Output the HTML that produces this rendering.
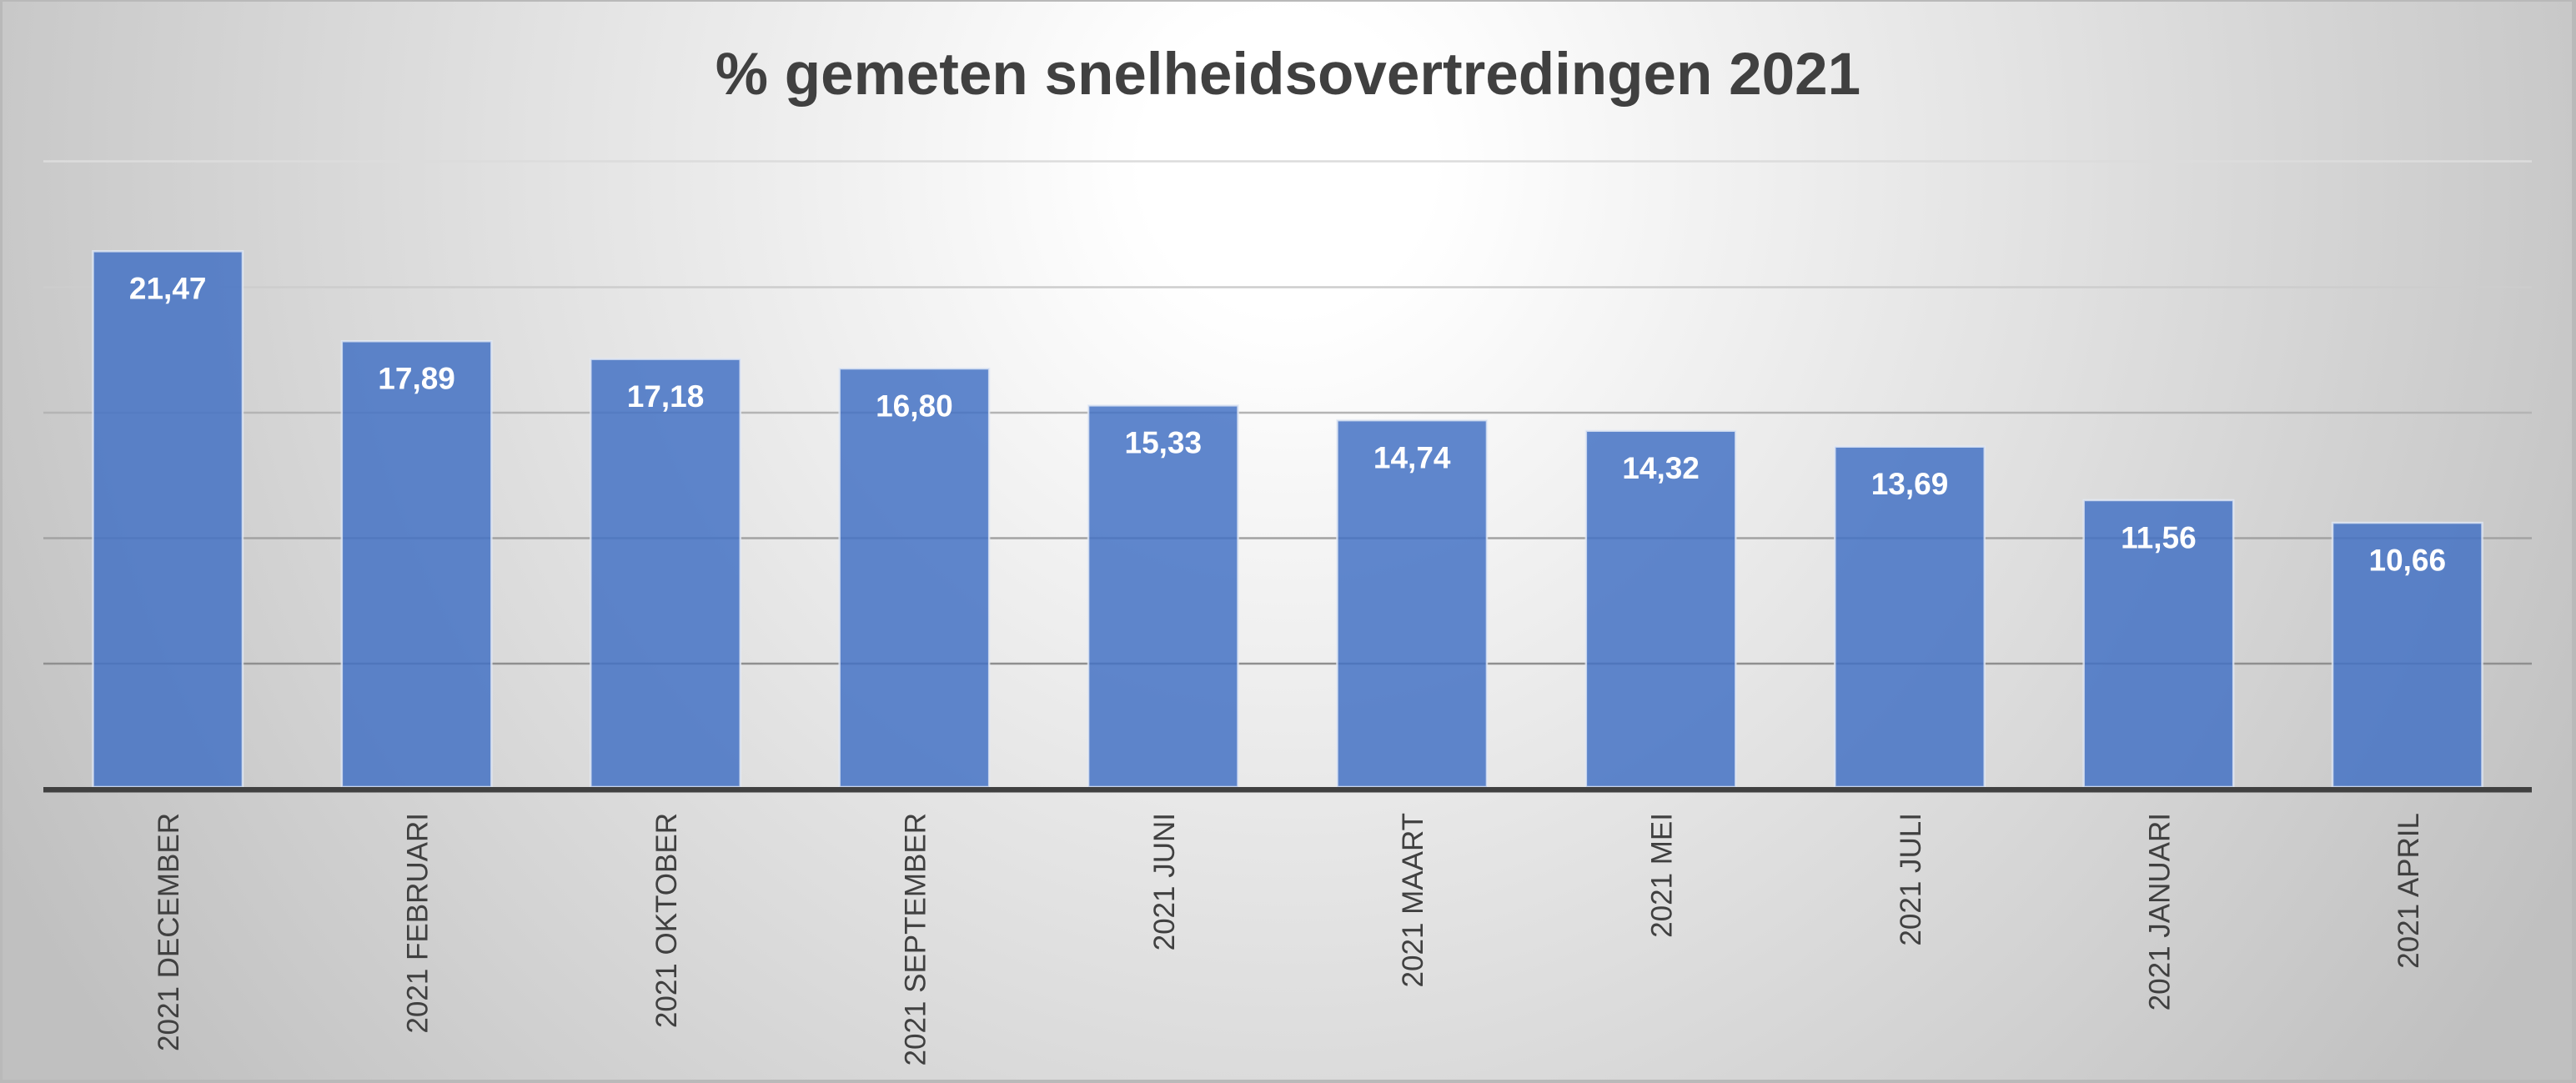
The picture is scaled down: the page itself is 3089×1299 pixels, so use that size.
<!DOCTYPE html>
<html>
<head>
<meta charset="utf-8">
<style>
  html, body { margin:0; padding:0; }
  body { width:3089px; height:1299px; overflow:hidden; }
  #chart {
    position:relative; width:3089px; height:1299px;
    background: radial-gradient(1750px 1800px at 1544px 195px, #ffffff 10%, #c0c0c0 100%);
  }
  #frame {
    position:absolute; left:0; top:0; width:3089px; height:1299px; box-sizing:border-box;
    border-style:solid; border-color:#b9b9b9;
    border-width:2px 5px 4px 3px;
  }
  svg { position:absolute; left:0; top:0; }
</style>
</head>
<body>
<div id="chart">
<svg width="3089" height="1299" viewBox="0 0 3089 1299" xmlns="http://www.w3.org/2000/svg">
  <!-- Title -->
  <text x="1544.5" y="113" text-anchor="middle" font-family="Liberation Sans, Arial, sans-serif" font-weight="bold" font-size="71" fill="#404040">% gemeten snelheidsovertredingen 2021</text>

  <!-- Gridlines -->
  <g stroke-width="2.5">
    <line x1="52" y1="193.5" x2="3036" y2="193.5" stroke="#dcdcdc"/>
    <line x1="52" y1="344.5" x2="3036" y2="344.5" stroke="#cdcdcd"/>
    <line x1="52" y1="495" x2="3036" y2="495" stroke="#b4b4b4"/>
    <line x1="52" y1="645.5" x2="3036" y2="645.5" stroke="#a2a2a2"/>
    <line x1="52" y1="796" x2="3036" y2="796" stroke="#8f8f8f"/>
  </g>

  <!-- Bars -->
  <g fill="#4472c4" fill-opacity="0.85" stroke="#e4eaf5" stroke-opacity="0.8" stroke-width="2.5">
    <rect x="111.45" y="301.35" width="179.5" height="642.65"/>
    <rect x="409.85" y="409.25" width="179.5" height="534.75"/>
    <rect x="708.25" y="430.65" width="179.5" height="513.35"/>
    <rect x="1006.65" y="442.05" width="179.5" height="501.95"/>
    <rect x="1305.05" y="486.35" width="179.5" height="457.65"/>
    <rect x="1603.45" y="504.15" width="179.5" height="439.85"/>
    <rect x="1901.85" y="516.75" width="179.5" height="427.25"/>
    <rect x="2200.25" y="535.75" width="179.5" height="408.25"/>
    <rect x="2498.65" y="599.95" width="179.5" height="344.05"/>
    <rect x="2797.05" y="627.05" width="179.5" height="316.95"/>
  </g>

  <!-- Baseline axis -->
  <rect x="52" y="944" width="2984" height="6.5" fill="#404040"/>

  <!-- Value labels -->
  <g font-family="Liberation Sans, Arial, sans-serif" font-weight="bold" font-size="37" fill="#ffffff" text-anchor="middle">
    <text x="201.2" y="358.5">21,47</text>
    <text x="499.6" y="466.5">17,89</text>
    <text x="798.0" y="488">17,18</text>
    <text x="1096.4" y="499.5">16,80</text>
    <text x="1394.8" y="543.5">15,33</text>
    <text x="1693.2" y="561.5">14,74</text>
    <text x="1991.6" y="574">14,32</text>
    <text x="2290.0" y="593">13,69</text>
    <text x="2588.4" y="657.5">11,56</text>
    <text x="2886.8" y="684.5">10,66</text>
  </g>

  <!-- Category labels -->
  <g font-family="Liberation Sans, Arial, sans-serif" font-size="35" fill="#404040" text-anchor="end">
    <text transform="translate(214.2,975) rotate(-90)">2021 DECEMBER</text>
    <text transform="translate(512.6,975) rotate(-90)">2021 FEBRUARI</text>
    <text transform="translate(811.0,975) rotate(-90)">2021 OKTOBER</text>
    <text transform="translate(1109.4,975) rotate(-90)">2021 SEPTEMBER</text>
    <text transform="translate(1407.8,975) rotate(-90)">2021 JUNI</text>
    <text transform="translate(1706.2,975) rotate(-90)">2021 MAART</text>
    <text transform="translate(2004.6,975) rotate(-90)">2021 MEI</text>
    <text transform="translate(2303.0,975) rotate(-90)">2021 JULI</text>
    <text transform="translate(2601.4,975) rotate(-90)">2021 JANUARI</text>
    <text transform="translate(2899.8,975) rotate(-90)">2021 APRIL</text>
  </g>
</svg>
<div id="frame"></div>
</div>
</body>
</html>
